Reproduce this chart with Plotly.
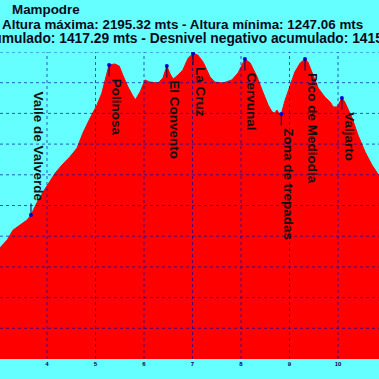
import plotly.graph_objects as go

# ---- data ----
dist_km = [2.93, 3.03, 3.18, 3.30, 3.44, 3.59, 3.67, 3.79, 3.92, 4.06, 4.17, 4.31, 4.47, 4.62, 4.74,
           4.89, 5.03, 5.13, 5.24, 5.28, 5.40, 5.49, 5.57, 5.67, 5.77, 5.82, 5.92, 6.02, 6.12, 6.29,
           6.39, 6.47, 6.54, 6.60, 6.68, 6.80, 6.91, 7.01, 7.11, 7.22, 7.36, 7.46, 7.63, 7.81, 7.94,
           8.04, 8.08, 8.19, 8.33, 8.45, 8.56, 8.64, 8.70, 8.74, 8.78, 8.83, 8.91, 9.01, 9.11, 9.22,
           9.32, 9.38, 9.49, 9.59, 9.73, 9.84, 9.90, 9.98, 10.08, 10.14, 10.29, 10.41, 10.56, 10.70,
           10.85, 10.95]
alt_m = [1545, 1562, 1588, 1620, 1636, 1653, 1669, 1708, 1744, 1777, 1806, 1832, 1858, 1887, 1936,
         1985, 2027, 2066, 2132, 2158, 2161, 2154, 2122, 2086, 2057, 2044, 2070, 2109, 2102, 2099,
         2115, 2154, 2128, 2112, 2122, 2141, 2180, 2195.32, 2190, 2167, 2119, 2102, 2099, 2109, 2132,
         2167, 2177, 2164, 2119, 2070, 2027, 2005, 2001, 2011, 2001, 1998, 2044, 2089, 2135, 2164,
         2177, 2167, 2125, 2083, 2053, 2037, 2021, 2021, 2050, 2037, 1985, 1930, 1874, 1832,
         1796, 1770]

wp_names = ["Valle de Valverde", "Polinosa", "El Convento", "La Cruz", "Cervunal",
            "Zona de trepadas", "Pico de Mediodia", "Valjarto"]
wp_km = [3.67, 5.28, 6.47, 7.01, 8.08, 8.83, 9.32, 10.08]
wp_alt = [1669, 2158, 2154, 2195.32, 2177, 1998, 2177, 2050]
wp_label_above = [True, False, False, False, False, False, False, False]

x_ticks = [4, 5, 6, 7, 8, 9, 10]
y_grid = [1300, 1400, 1500, 1600, 1700, 1800, 1900, 2000, 2100, 2200]

title_lines = ["Mampodre",
               "Altura máxima: 2195.32 mts - Altura mínima: 1247.06 mts",
               "acumulado: 1417.29 mts - Desnivel negativo acumulado: 1415"]

# ---- style ----
W, H = 379, 379
M_T, M_B = 52, 20
PLOT_H = H - M_T - M_B
BG = "#66FFFF"
FONT = "Liberation Sans, Arial, sans-serif"
GRID = "rgba(0,0,160,0.65)"

fig = go.Figure()
fig.add_trace(go.Scatter(x=dist_km, y=alt_m, mode="lines", fill="tozeroy",
                         line=dict(color="#FF0000", width=1), fillcolor="#FF0000",
                         hoverinfo="skip", showlegend=False))
fig.add_trace(go.Scatter(x=wp_km, y=wp_alt, mode="markers",
                         marker=dict(color="#0000DD", size=4), showlegend=False))

shapes = []
for t in x_ticks:
    shapes.append(dict(type="line", xref="x", yref="paper", x0=t, x1=t, y0=0, y1=1,
                       layer="above", line=dict(color=GRID, width=1, dash="dot")))
for g in y_grid:
    shapes.append(dict(type="line", xref="paper", yref="y", x0=0, x1=1, y0=g, y1=g,
                       layer="above", line=dict(color=GRID, width=1, dash="dot")))

ann = []
for name, xk, ya, above in zip(wp_names, wp_km, wp_alt, wp_label_above):
    # leader line
    ann.append(dict(x=xk, y=ya, xref="x", yref="y", text="", showarrow=True,
                    arrowhead=0, arrowwidth=1, arrowcolor="#000055",
                    ax=0, ay=(-13 if above else 13)))
    ann.append(dict(x=xk, y=ya, xref="x", yref="y", text=name, showarrow=False,
                    textangle=90, xanchor="left", yanchor=("bottom" if above else "top"),
                    xshift=-2, yshift=(11 if above else -12),
                    font=dict(family=FONT, size=13.5, color="#111111", weight="bold")))

title_x = [10, 0, -24]
title_y = [10, 24.5, 39]
title_size = [13.4, 13.4, 13.8]
for txt, px, py, fs in zip(title_lines, title_x, title_y, title_size):
    ann.append(dict(x=px / W, y=(H - M_B - py) / PLOT_H, xref="paper", yref="paper",
                    text=txt, showarrow=False, xanchor="left", yanchor="middle",
                    font=dict(family=FONT, size=fs, color="#0a0a20", weight="bold")))

fig.update_layout(
    width=W, height=H,
    margin=dict(l=0, r=0, t=M_T, b=M_B, pad=0),
    paper_bgcolor=BG, plot_bgcolor=BG,
    shapes=shapes, annotations=ann,
    xaxis=dict(range=[3.031, 10.845], tickvals=x_ticks, showgrid=False, zeroline=False,
               showline=False, ticks="",
               tickfont=dict(family=FONT, size=6, color="#000050", weight="bold")),
    yaxis=dict(range=[1200, 2200], showgrid=False, zeroline=False, showline=False,
               showticklabels=False),
)

fig.write_html("out.html", config={"displayModeBar": False},
               post_script="document.body.style.margin='0';document.body.style.overflow='hidden';")
